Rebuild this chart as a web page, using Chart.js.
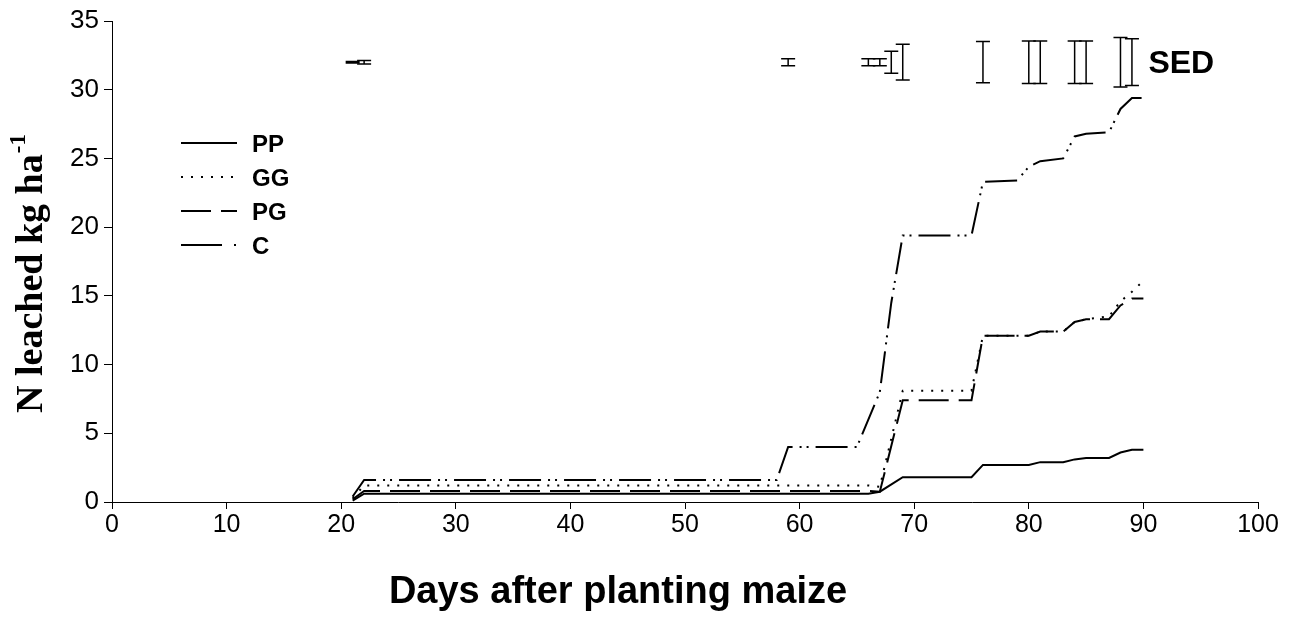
<!DOCTYPE html>
<html>
<head>
<meta charset="utf-8">
<script src="https://cdn.jsdelivr.net/npm/chart.js@4/dist/chart.umd.min.js"></script>
<style>
  body { margin: 0; background: #fff; }
</style>
</head>
<body>
<canvas id="myChart" width="1296" height="639"></canvas>
<script>
// values (day after planting, N leached kg/ha)
const ppDays = [21, 22, 66, 67, 69, 75, 76, 80, 81, 83, 84, 85, 87, 88, 89, 90];
const ppN = [0.1, 0.6, 0.6, 0.75, 1.8, 1.8, 2.7, 2.7, 2.9, 2.9, 3.1, 3.2, 3.2, 3.6, 3.8, 3.8];

const ggDays = [21, 22, 66, 67, 69, 75, 76, 80, 81, 83, 84, 85, 87, 88, 89, 90];
const ggN = [0.3, 1.2, 1.2, 1.1, 8.1, 8.1, 12.1, 12.1, 12.4, 12.4, 13.1, 13.3, 13.5, 14.6, 15.3, 16.1];

const pgDays = [21, 22, 66, 67, 69, 75, 76, 80, 81, 83, 84, 85, 87, 88, 89, 90];
const pgN = [0.2, 0.8, 0.8, 0.75, 7.4, 7.4, 12.1, 12.1, 12.4, 12.4, 13.1, 13.3, 13.3, 14.3, 14.8, 14.8];

const cDays = [21, 22, 58, 59, 65, 67, 68, 69, 75, 76, 79, 80, 81, 83, 84, 85, 87, 88, 89, 90];
const cN = [0.4, 1.6, 1.6, 4.0, 4.0, 8.0, 14.5, 19.4, 19.4, 23.3, 23.4, 24.4, 24.8, 25.0, 26.6, 26.8, 26.9, 28.6, 29.4, 29.4];

// SED bars, drawn around a common centre
const sedCentre = 32;
const sedDays = [21, 22, 59, 66, 67, 68, 69, 76, 80, 81, 84, 85, 88, 89];
const sedHalf = [0.05, 0.13, 0.25, 0.25, 0.25, 0.8, 1.3, 1.5, 1.55, 1.55, 1.55, 1.55, 1.8, 1.7];

const xTicks = [0, 10, 20, 30, 40, 50, 60, 70, 80, 90, 100];
const yTicks = [0, 5, 10, 15, 20, 25, 30, 35];

const seriesNames = ["PP", "GG", "PG", "C"];
const dashes = {
  PP: [],
  GG: [2, 8],
  PG: [30, 10],
  C: [32, 7, 2, 5, 2, 7]
};
const legendDashes = {
  PP: [],
  GG: [2, 8],
  PG: [30, 10],
  C: [41, 12, 2, 20]
};

function pts(days, vals) {
  return days.map((d, i) => ({ x: d, y: vals[i] }));
}

function lineSet(label, days, vals) {
  return {
    label: label,
    data: pts(days, vals),
    borderColor: "#000",
    borderWidth: 2,
    borderDash: dashes[label],
    pointRadius: 0,
    tension: 0,
    fill: false
  };
}

const overlay = {
  id: "overlay",
  afterDatasetsDraw(chart) {
    const ctx = chart.ctx;
    const x = chart.scales.x;
    const y = chart.scales.y;
    const area = chart.chartArea;
    ctx.save();
    ctx.strokeStyle = "#000";
    ctx.fillStyle = "#000";

    // SED error bars
    ctx.lineWidth = 1.5;
    sedDays.forEach((d, i) => {
      const px = x.getPixelForValue(d);
      const top = y.getPixelForValue(sedCentre + sedHalf[i]);
      const bot = y.getPixelForValue(sedCentre - sedHalf[i]);
      ctx.beginPath();
      ctx.moveTo(px, top);
      ctx.lineTo(px, bot);
      ctx.moveTo(px - 7, top);
      ctx.lineTo(px + 7, top);
      ctx.moveTo(px - 7, bot);
      ctx.lineTo(px + 7, bot);
      ctx.stroke();
    });
    ctx.font = "bold 32px Arial, 'Liberation Sans', sans-serif";
    ctx.textAlign = "left";
    ctx.textBaseline = "middle";
    ctx.fillText("SED", x.getPixelForValue(90) + 5, y.getPixelForValue(sedCentre) + 2);

    // legend
    ctx.font = "bold 24px Arial, 'Liberation Sans', sans-serif";
    seriesNames.forEach((name, i) => {
      const ly = area.top + 122 + i * 34;
      ctx.lineWidth = 2;
      ctx.setLineDash(legendDashes[name]);
      ctx.beginPath();
      ctx.moveTo(area.left + 69, ly);
      ctx.lineTo(area.left + 125, ly);
      ctx.stroke();
      ctx.setLineDash([]);
      ctx.fillText(name, area.left + 140, ly + 2);
    });

    // x axis title
    ctx.font = "bold 38px Arial, 'Liberation Sans', sans-serif";
    ctx.textAlign = "center";
    ctx.fillText("Days after planting maize", area.left + 506, area.bottom + 91);

    // y axis title with superscript
    ctx.translate(30, 274);
    ctx.rotate(-Math.PI / 2);
    const main = "N leached kg ha";
    const big = "bold 38px 'Liberation Serif', 'Times New Roman', serif";
    const small = "bold 23px 'Liberation Serif', 'Times New Roman', serif";
    ctx.font = big;
    const w1 = ctx.measureText(main).width;
    ctx.font = small;
    const w2 = ctx.measureText("-1").width;
    const start = -(w1 + w2) / 2;
    ctx.textAlign = "left";
    ctx.font = big;
    ctx.fillText(main, start, 2);
    ctx.font = small;
    ctx.fillText("-1", start + w1 + 1, -11);
    ctx.restore();
  }
};

const ctx = document.getElementById("myChart");
const myChart = new Chart(ctx, {
  type: "line",
  data: {
    datasets: [
      lineSet("C", cDays, cN),
      lineSet("PG", pgDays, pgN),
      lineSet("GG", ggDays, ggN),
      lineSet("PP", ppDays, ppN)
    ]
  },
  options: {
    responsive: false,
    devicePixelRatio: 1,
    animation: false,
    layout: { padding: { top: 21, right: 38, left: 0, bottom: 0 } },
    plugins: {
      legend: { display: false },
      tooltip: { enabled: false }
    },
    scales: {
      x: {
        type: "linear",
        min: 0,
        max: 100,
        afterFit: (s) => { s.height = 137; },
        afterBuildTicks: (s) => { s.ticks = xTicks.map((v) => ({ value: v })); },
        ticks: {
          color: "#000",
          padding: 1,
          maxRotation: 0,
          font: { family: "Arial, 'Liberation Sans', sans-serif", size: 25 }
        },
        grid: { drawOnChartArea: false, drawTicks: true, tickLength: 7, color: "#000", lineWidth: 1 },
        border: { display: true, color: "#000", width: 1 }
      },
      y: {
        min: 0,
        max: 35,
        afterFit: (s) => { s.width = 112; },
        afterBuildTicks: (s) => { s.ticks = yTicks.map((v) => ({ value: v })); },
        ticks: {
          color: "#000",
          padding: 5,
          font: { family: "Arial, 'Liberation Sans', sans-serif", size: 26 }
        },
        grid: { drawOnChartArea: false, drawTicks: true, tickLength: 8, color: "#000", lineWidth: 1 },
        border: { display: true, color: "#000", width: 1 }
      }
    }
  },
  plugins: [overlay]
});
</script>
</body>
</html>
